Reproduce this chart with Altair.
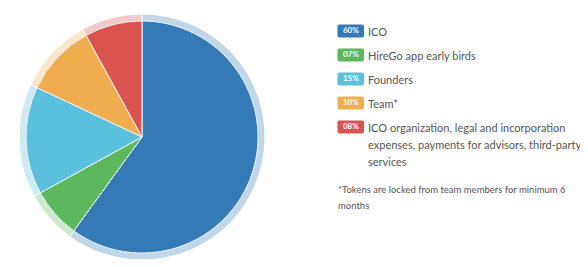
import altair as alt
import pandas as pd

labels = ["ICO", "HireGo app early birds", "Founders", "Team*",
          "ICO organization, legal and incorporation\nexpenses, payments for advisors, third-party\nservices"]
values = [60, 7, 15, 10, 8]
badges = ["60%", "07%", "15%", "10%", "08%"]
colors = ["#337ab7", "#5cb85c", "#5bc0de", "#f0ad4e", "#d9534f"]
footnote = "*Tokens are locked from team members for minimum 6\nmonths"

df = pd.DataFrame({
    "label": labels,
    "value": values,
    "badge": badges,
    "idx": list(range(len(labels))),
})

color = alt.Color("label:N", scale=alt.Scale(domain=labels, range=colors), legend=None)
cx, cy = 134, 129

base = alt.Chart(df)

ring = base.mark_arc(radius=123, opacity=0.3, stroke="white", strokeWidth=1).encode(
    theta=alt.Theta("value:Q", stack=True),
    order=alt.Order("idx:Q"),
    color=color,
    x=alt.value(cx), y=alt.value(cy),
)
pie = base.mark_arc(radius=116, stroke="#eef6fb", strokeWidth=1).encode(
    theta=alt.Theta("value:Q", stack=True),
    order=alt.Order("idx:Q"),
    color=color,
    x=alt.value(cx), y=alt.value(cy),
)

yrow = alt.Y("idx:Q", scale=alt.Scale(domain=[0, 4], range=[23, 119]), axis=None)

badge_rect = base.mark_rect(yOffset=-6.5, y2Offset=6.5, cornerRadius=2).encode(
    x=alt.value(329.5), x2=alt.value(356),
    y=yrow, y2=alt.Y2("idx:Q"),
    color=color,
)
badge_text = base.mark_text(color="white", fontSize=8, fontWeight="bold",
                            font="Lato", align="center", baseline="middle").encode(
    x=alt.value(342.8), y=yrow, text="badge:N",
)
label_text = base.mark_text(color="#555555", fontSize=11, font="Lato",
                            align="left", baseline="middle", lineBreak="\n",
                            lineHeight=17, dy=1.5).encode(
    x=alt.value(360), y=yrow, text="label:N",
)
foot = alt.Chart(pd.DataFrame({"t": [footnote]})).mark_text(
    color="#555555", fontSize=9.5, font="Lato", align="left", baseline="middle",
    lineBreak="\n", lineHeight=16).encode(
    x=alt.value(330), y=alt.value(181.5), text="t:N",
)

chart = alt.layer(ring, pie, badge_rect, badge_text, label_text, foot).properties(
    width=572, height=251, padding=0,
    autosize=alt.AutoSizeParams(type="none"),
).configure_view(stroke=None)

chart.save("out.html", embed_options={"renderer": "svg", "actions": False})
